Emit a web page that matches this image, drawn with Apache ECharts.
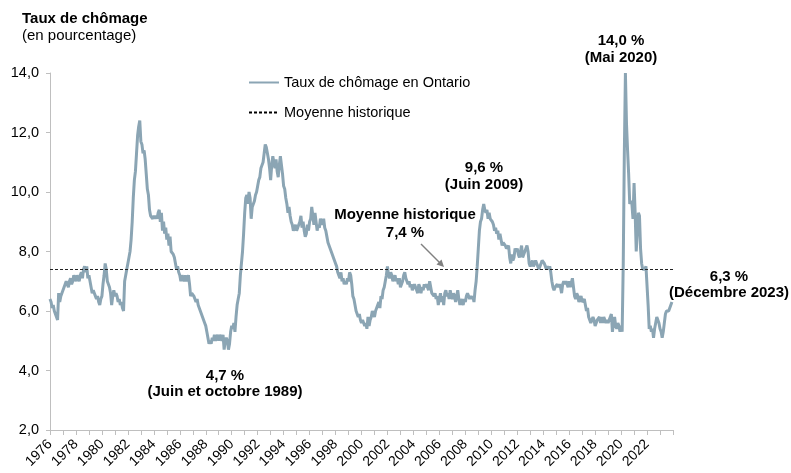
<!DOCTYPE html>
<html>
<head>
<meta charset="utf-8">
<script src="https://cdn.jsdelivr.net/npm/echarts@6/dist/echarts.min.js"></script>
<style>
  html, body { margin: 0; padding: 0; background: #fff; }
  #main { width: 791px; height: 473px; }
</style>
</head>
<body>
<div id="main"></div>
<script>
// taux de chômage mensuel, Ontario, janv. 1976 - déc. 2023
var startYear = 1976;
var endYear = 2024;
var avgRate = 7.4;
var rates = [
  6.4, 6.3, 6.1, 6.2, 6.0, 5.9, 5.8, 5.7, 6.6, 6.3, 6.5, 6.6, // 1976
  6.7, 6.8, 6.9, 7.0, 6.9, 6.8, 7.0, 7.1, 6.9, 7.0, 7.2, 7.1, // 1977
  7.0, 7.2, 7.1, 7.0, 7.2, 7.3, 7.1, 7.4, 7.5, 7.3, 7.5, 7.1, // 1978
  7.2, 7.0, 6.8, 6.6, 6.7, 6.6, 6.5, 6.4, 6.5, 6.3, 6.2, 6.4, // 1979
  6.5, 6.9, 7.2, 7.6, 7.4, 7.0, 7.0, 6.8, 6.6, 6.2, 6.5, 6.7, // 1980
  6.5, 6.6, 6.5, 6.3, 6.4, 6.2, 6.3, 6.1, 6.0, 7.0, 7.2, 7.4, // 1981
  7.6, 7.8, 8.0, 8.4, 9.0, 9.8, 10.4, 10.7, 11.3, 11.9, 12.2, 12.4, // 1982
  11.7, 11.6, 11.3, 11.4, 11.1, 10.6, 10.1, 9.9, 9.4, 9.2, 9.2, 9.1, // 1983
  9.2, 9.1, 9.2, 9.1, 9.3, 9.4, 9.0, 9.3, 8.7, 9.0, 8.6, 8.8, // 1984
  8.4, 8.6, 8.2, 8.5, 8.0, 8.0, 7.9, 7.8, 7.6, 7.4, 7.5, 7.3, // 1985
  7.2, 7.0, 7.2, 7.1, 7.0, 7.2, 7.0, 7.1, 7.2, 6.9, 6.5, 6.6, // 1986
  6.6, 6.5, 6.4, 6.3, 6.4, 6.2, 6.1, 6.0, 5.9, 5.8, 5.7, 5.6, // 1987
  5.5, 5.3, 5.1, 4.9, 5.0, 4.9, 5.1, 5.0, 5.2, 5.0, 5.0, 5.2, // 1988
  5.0, 5.2, 5.1, 5.0, 5.2, 4.7, 5.0, 5.1, 5.0, 4.7, 4.9, 5.3, // 1989
  5.5, 5.4, 5.6, 5.3, 5.8, 6.2, 6.4, 6.6, 7.2, 7.6, 8.0, 8.6, // 1990
  9.3, 9.8, 9.9, 9.6, 10.0, 9.8, 9.1, 9.5, 9.6, 9.7, 9.9, 10.0, // 1991
  10.2, 10.4, 10.5, 10.8, 10.9, 11.0, 11.3, 11.6, 11.5, 11.3, 11.1, 10.8, // 1992
  10.4, 10.9, 11.2, 11.0, 10.8, 11.1, 10.7, 10.5, 10.9, 11.2, 10.9, 10.6, // 1993
  10.2, 10.1, 9.8, 9.6, 9.3, 9.5, 9.2, 9.0, 8.9, 8.7, 8.8, 8.9, // 1994
  8.7, 8.8, 8.9, 9.0, 9.2, 8.8, 9.0, 8.7, 8.5, 8.6, 8.9, 8.7, // 1995
  9.0, 9.1, 9.5, 9.2, 8.9, 9.3, 9.0, 8.7, 8.9, 8.8, 9.1, 9.0, // 1996
  8.9, 9.1, 8.8, 8.7, 8.5, 8.3, 8.2, 8.1, 8.0, 7.9, 7.8, 7.7, // 1997
  7.6, 7.5, 7.3, 7.2, 7.1, 7.3, 7.0, 7.1, 6.9, 7.0, 6.9, 7.1, // 1998
  7.0, 7.3, 7.2, 6.9, 6.5, 6.4, 6.2, 6.0, 6.0, 5.8, 5.9, 5.7, // 1999
  5.6, 5.7, 5.6, 5.5, 5.6, 5.4, 5.8, 5.5, 5.7, 5.8, 6.0, 5.9, // 2000
  5.8, 6.0, 6.1, 6.2, 6.3, 6.1, 6.5, 6.4, 6.7, 6.8, 7.0, 7.2, // 2001
  7.5, 7.2, 7.1, 7.3, 7.2, 7.0, 7.1, 7.2, 7.0, 7.1, 6.9, 7.1, // 2002
  6.8, 6.9, 7.0, 7.2, 7.3, 7.1, 7.0, 6.9, 7.0, 6.8, 6.9, 6.7, // 2003
  6.7, 6.9, 6.8, 6.7, 6.6, 6.9, 6.8, 6.6, 6.8, 6.7, 6.9, 6.8, // 2004
  6.9, 6.8, 6.7, 7.0, 6.8, 6.6, 6.6, 6.5, 6.6, 6.4, 6.5, 6.2, // 2005
  6.4, 6.6, 6.3, 6.5, 6.2, 6.6, 6.7, 6.5, 6.6, 6.4, 6.7, 6.5, // 2006
  6.4, 6.6, 6.5, 6.3, 6.5, 6.7, 6.4, 6.2, 6.4, 6.3, 6.2, 6.4, // 2007
  6.3, 6.5, 6.6, 6.5, 6.4, 6.5, 6.4, 6.5, 6.3, 6.7, 7.0, 7.5, // 2008
  8.1, 8.7, 9.0, 9.1, 9.4, 9.6, 9.4, 9.3, 9.4, 9.1, 9.3, 9.1, // 2009
  9.1, 9.0, 8.9, 8.7, 8.8, 8.6, 8.7, 8.4, 8.6, 8.4, 8.2, 8.3, // 2010
  8.3, 8.2, 8.1, 8.1, 8.2, 7.8, 7.6, 7.9, 7.7, 7.8, 8.1, 8.0, // 2011
  8.1, 7.9, 7.8, 8.0, 8.2, 7.8, 7.8, 8.0, 8.1, 8.2, 8.0, 7.6, // 2012
  7.5, 7.6, 7.7, 7.5, 7.5, 7.7, 7.6, 7.5, 7.4, 7.5, 7.6, 7.7, // 2013
  7.7, 7.6, 7.5, 7.4, 7.5, 7.4, 7.5, 7.3, 7.0, 6.8, 6.7, 6.8, // 2014
  6.8, 6.9, 6.8, 6.9, 6.8, 6.6, 6.9, 7.0, 6.9, 7.0, 6.9, 6.8, // 2015
  7.0, 6.8, 6.8, 7.1, 6.8, 6.5, 6.4, 6.6, 6.5, 6.3, 6.4, 6.5, // 2016
  6.3, 6.3, 6.4, 6.2, 6.0, 6.1, 5.8, 5.8, 5.6, 5.7, 5.8, 5.7, // 2017
  5.5, 5.6, 5.7, 5.7, 5.8, 5.6, 5.8, 5.6, 5.8, 5.7, 5.6, 5.7, // 2018
  5.6, 5.7, 5.8, 5.9, 5.3, 5.6, 5.8, 5.5, 5.4, 5.6, 5.5, 5.3, // 2019
  5.5, 5.3, 7.6, 11.3, 14.0, 12.3, 11.4, 10.6, 9.6, 9.7, 9.6, 9.1, // 2020
  10.3, 9.3, 8.0, 8.0, 9.3, 9.2, 8.1, 7.6, 7.4, 7.4, 7.4, 7.5, // 2021
  7.5, 6.2, 5.4, 5.5, 5.3, 5.4, 5.1, 5.4, 5.6, 5.8, 5.7, 5.6, // 2022
  5.4, 5.3, 5.1, 5.3, 5.6, 5.9, 6.0, 6.0, 6.0, 6.1, 6.2, 6.3  // 2023
];
var yTicks = [2, 4, 6, 8, 10, 12, 14];

var lineData = rates.map(function (v, i) {
  return [startYear + i / 12, v];
});

var chart = echarts.init(document.getElementById('main'));
var txtFont = 'Liberation Sans, Arial, sans-serif';
var boldFont = 'bold 15px ' + txtFont;

var option = {
  backgroundColor: '#fff',
  textStyle: { fontFamily: txtFont },
  grid: { left: 50, right: 118, top: 73, bottom: 43 },
  legend: {
    orient: 'vertical',
    left: 243,
    top: 70,
    itemWidth: 30,
    itemHeight: 14,
    itemGap: 15,
    itemStyle: { opacity: 0, borderWidth: 0 },
    textStyle: { fontSize: 14.5, color: '#000', fontFamily: txtFont },
    data: ['Taux de chômage en Ontario', 'Moyenne historique']
  },
  xAxis: {
    type: 'value',
    min: startYear,
    max: endYear,
    interval: 1,
    splitLine: { show: false },
    axisLine: { lineStyle: { color: '#bfbfbf', width: 1 } },
    axisTick: { show: true, length: 5, lineStyle: { color: '#bfbfbf' } },
    axisLabel: {
      rotate: 45,
      fontSize: 14,
      color: '#000',
      margin: 12,
      formatter: function (v) {
        return (v % 2 === 0 && v < endYear) ? String(v) : '';
      }
    }
  },
  yAxis: {
    type: 'value',
    min: yTicks[0],
    max: yTicks[yTicks.length - 1],
    interval: 2,
    splitLine: { show: false },
    axisLine: { show: true, lineStyle: { color: '#bfbfbf', width: 1 } },
    axisTick: { show: true, length: 4, lineStyle: { color: '#bfbfbf' } },
    axisLabel: {
      fontSize: 14.5,
      color: '#000',
      margin: 11,
      formatter: function (v) { return v.toFixed(1).replace('.', ','); }
    }
  },
  series: [
    {
      name: 'Taux de chômage en Ontario',
      type: 'line',
      data: lineData,
      showSymbol: false,
      symbol: 'none',
      lineStyle: { color: '#8ba5b4', width: 3 },
      itemStyle: { color: '#8ba5b4' }
    },
    {
      name: 'Moyenne historique',
      type: 'line',
      data: [],
      symbol: 'none',
      lineStyle: { color: '#000', width: 1, type: [3, 2] },
      itemStyle: { color: '#000' },
      markLine: {
        silent: true,
        symbol: 'none',
        label: { show: false },
        lineStyle: { color: '#222', width: 1, type: [3, 2] },
        data: [{ yAxis: avgRate }]
      }
    }
  ],
  graphic: [
    { type: 'text', left: 22, top: 11, style: { text: 'Taux de chômage', font: boldFont, fill: '#000' } },
    { type: 'text', left: 22, top: 28, style: { text: '(en pourcentage)', font: '15px ' + txtFont, fill: '#000' } },
    { type: 'text', x: 621, y: 32, style: { text: '14,0 %\n(Mai 2020)', font: boldFont, fill: '#000', textAlign: 'center', lineHeight: 17 } },
    { type: 'text', x: 484, y: 159.5, style: { text: '9,6 %\n(Juin 2009)', font: boldFont, fill: '#000', textAlign: 'center', lineHeight: 17 } },
    { type: 'text', x: 405, y: 206, style: { text: 'Moyenne historique\n7,4 %', font: boldFont, fill: '#000', textAlign: 'center', lineHeight: 18 } },
    { type: 'text', x: 225, y: 368, style: { text: '4,7 %\n(Juin et octobre 1989)', font: boldFont, fill: '#000', textAlign: 'center', lineHeight: 16 } },
    { type: 'text', x: 729, y: 269, style: { text: '6,3 %\n(Décembre 2023)', font: boldFont, fill: '#000', textAlign: 'center', lineHeight: 16 } },
    { type: 'line', shape: { x1: 421, y1: 244, x2: 440, y2: 263 }, style: { stroke: '#808080', lineWidth: 1.5 } },
    { type: 'polygon', shape: { points: [[444, 267], [441.5, 259.5], [436.5, 264.5]] }, style: { fill: '#808080' } }
  ]
};

chart.setOption(option);
</script>
</body>
</html>
